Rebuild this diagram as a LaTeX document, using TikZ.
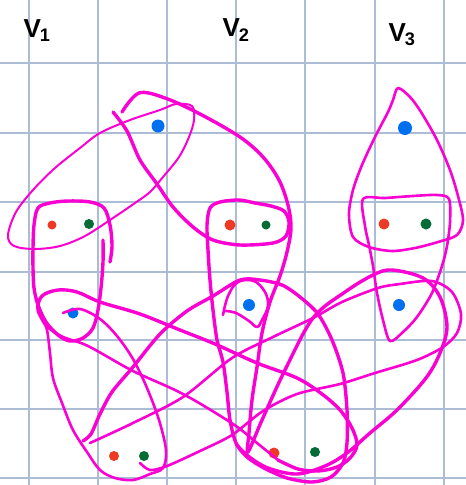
\documentclass[tikz,border=0pt]{standalone}
\usepackage{fontspec}
\setmainfont{Liberation Sans}
\definecolor{pk}{RGB}{250,0,210}
\definecolor{gridc}{RGB}{172,188,212}
\definecolor{rd}{RGB}{236,58,36}
\definecolor{gn}{RGB}{4,108,52}
\definecolor{bl}{RGB}{0,112,240}
\begin{document}
\begin{tikzpicture}[x=1pt,y=-1pt,
  gridline/.style={gridc,line width=1.3pt},
  thickpen/.style={pk,line width=3.4pt,line cap=round,line join=round},
  medpen/.style={pk,line width=2.6pt,line cap=round,line join=round},
  thinpen/.style={pk,line width=2pt,line cap=round,line join=round},
  dotr/.style={circle,fill=rd,inner sep=0pt,minimum width=9pt,minimum height=9pt},
  dotg/.style={circle,fill=gn,inner sep=0pt,minimum width=9pt},
  dotb/.style={circle,fill=bl,inner sep=0pt,minimum width=13pt},
  lbl/.style={font=\bfseries\fontsize{26}{30}\selectfont,inner sep=0pt}]
\useasboundingbox (0,0) rectangle (466,485);
\fill[white] (0,0) rectangle (466,485);
% grid
\foreach \gx in {29,98,167,236,305,375,444} \draw[gridline] (\gx,0) -- (\gx,485);
\foreach \gy in {63,133,202,272,340,409,478} \draw[gridline] (0,\gy) -- (466,\gy);
% labels
\node[lbl] (l1) at (37,31) {V\kern-1pt$_{\mathbf 1}$};
\node[lbl] (l2) at (236,30) {V\kern-1pt$_{\mathbf 2}$};
\node[lbl] (l3) at (402,35) {V\kern-1pt$_{\mathbf 3}$};
% dots
\node[dotb] (bt) at (158,126) {};
\node[dotr] (r1) at (52,225) {};
\node[dotg,minimum width=7pt,minimum height=10pt] (g1) at (89,224) {};
\node[dotr,minimum width=11pt,minimum height=8pt] (r2) at (230,225) {};
\node[dotg] (g2) at (266,225) {};
\node[dotb,minimum width=14pt,minimum height=12pt] (b3) at (405,128) {};
\node[dotr,minimum width=11pt,minimum height=9pt] (r3) at (384,224) {};
\node[dotg,minimum height=11pt] (g3) at (426,224) {};
\node[dotb,minimum width=10pt,minimum height=11pt] (b1l) at (73,313) {};
\node[dotb,minimum width=10pt,minimum height=12pt] (b2l) at (249,305) {};
\node[dotb,minimum width=11pt,minimum height=12pt] (b3l) at (399,305) {};
\node[dotr,minimum width=10pt,minimum height=8pt] (rb1) at (114,456) {};
\node[dotg,minimum width=10pt,minimum height=10pt] (gb1) at (144,456) {};
\node[dotr,minimum width=11pt,minimum height=8pt] (rb2) at (274,453) {};
\node[dotg,minimum width=10pt,minimum height=10pt] (gb2) at (315,452) {};
% S1 thin loop: top blue + V1 pair
\draw[thinpen] plot[smooth cycle,tension=0.55] coordinates {(8,235) (16,212) (33,190) (55,168) (80,148) (100,133) (130,120) (160,110) (176,104) (192,106) (194,120) (189,137) (179,157) (163,177) (150,192) (135,203) (113,218) (85,236) (60,246) (35,249) (14,246)};
% S2 thick: over the top and down the right
\draw[thickpen] plot[smooth,tension=0.55] coordinates {(122,112) (139,93) (165,98) (200,114) (240,137) (263,157) (279,180) (288,205) (291,228) (287,252) (280,276) (270,302) (262,333) (257,367) (252,400) (249,433) (248,452) (262,420) (285,370) (313,318) (345,292) (373,275) (392,270) (423,278) (440,297) (447,327) (440,353) (426,378) (397,410) (370,433) (347,453) (325,466) (297,474) (268,468) (248,456) (236,444)};
% S3 thick: X line, V2 box, down and back
\draw[thickpen] plot[smooth,tension=0.5] coordinates {(113,112) (127,131) (140,160) (157,184) (173,207) (193,227) (213,240) (240,245) (273,243) (286,236) (289,222) (284,211) (271,206) (255,203) (239,200) (220,202) (210,208) (207,225) (208,250) (210,280) (213,310) (217,340) (223,362) (227,392) (230,420) (236,443) (247,457) (264,468) (287,478) (312,482) (331,477) (343,463) (347,443) (347,410) (343,373) (332,340) (318,314) (300,297) (282,285) (260,280) (240,280) (213,296) (187,311) (160,334) (133,367) (112,392) (100,414) (91,434) (83,441)};
% S4 small loop round V2 lower blue
\draw[medpen] plot[smooth,tension=0.6] coordinates {(223,315) (228,296) (238,282) (254,281) (265,292) (268,306) (262,320) (257,327) (249,321) (236,313) (226,311)};
% S5 V1 sock
\draw[thickpen] plot[smooth,tension=0.55] coordinates {(110,262) (112,246) (110,225) (104,208) (90,202) (68,201) (50,203) (38,208) (34,225) (33,248) (33,268) (34,288) (38,305) (46,322) (58,335) (70,341) (83,338) (93,328) (98,310) (101,288) (103,262) (103,240)};
% S6 V1 lower blue + bottom-left pair
\draw[medpen] plot[smooth,tension=0.55] coordinates {(63,313) (80,309) (100,319) (117,336) (133,359) (147,388) (159,420) (166,450) (163,468) (150,474) (133,480) (115,478) (100,470) (87,452) (73,430) (62,403) (53,378) (50,353) (47,330) (42,316)};
% S7 V1 lower blue + bottom-mid pair
\draw[thickpen] plot[smooth,tension=0.55] coordinates {(47,327) (38,310) (42,296) (58,290) (77,292) (100,302) (140,314) (180,330) (215,344) (257,363) (297,378) (322,394) (340,410) (352,428) (357,445) (350,458) (337,467) (318,471) (298,469) (278,460)};
\draw[medpen] plot[smooth,tension=0.55] coordinates {(278,460) (257,443) (233,424) (183,394) (133,371) (88,346) (63,337) (47,327)};
% S8 V3 lower blue + bottom-left pair
\draw[medpen] plot[smooth,tension=0.5] coordinates {(140,463) (150,470) (167,466) (200,451) (232,435) (263,411) (297,394) (340,384) (375,373) (417,360) (443,347) (457,333) (461,314) (452,292) (432,281) (400,284) (378,288) (342,302) (313,318) (273,337) (232,358) (183,397) (133,423) (90,443)};
% S10 V3 teardrop
\draw[medpen] plot[smooth cycle,tension=0.5] coordinates {(398,88) (410,97) (421,112) (437,140) (450,170) (458,196) (463,220) (457,235) (438,242) (415,248) (392,251) (369,247) (353,237) (349,214) (353,190) (362,165) (375,137) (388,112) (393,100)};
% S11 V3 sock
\draw[medpen] plot[smooth cycle,tension=0.5] coordinates {(363,199) (385,198) (413,196) (437,195) (449,199) (450,222) (447,246) (442,266) (432,293) (417,317) (403,332) (390,341) (383,320) (377,293) (373,266) (369,245) (365,226)};
\end{tikzpicture}
\end{document}
